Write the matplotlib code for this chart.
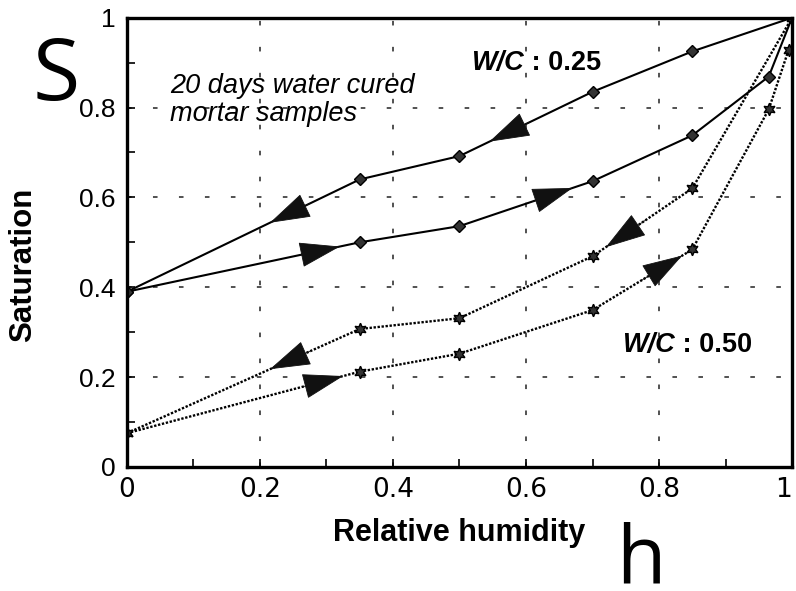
import numpy as np
import matplotlib.pyplot as plt
from matplotlib.patches import ArrowStyle

# relative humidity steps and saturation values
h_wc25 = [0.0, 0.35, 0.5, 0.7, 0.85, 1.0]
s_wc25_des = [0.39, 0.64, 0.692, 0.835, 0.925, 1.0]
h_wc25_ads = [0.0, 0.35, 0.5, 0.7, 0.85, 0.965, 1.0]
s_wc25_ads = [0.39, 0.50, 0.536, 0.636, 0.738, 0.869, 1.0]

h_wc50_des = [0.0, 0.35, 0.5, 0.7, 0.85, 1.0]
s_wc50_des = [0.075, 0.307, 0.331, 0.469, 0.62, 1.0]
h_wc50_ads = [0.0, 0.35, 0.5, 0.7, 0.85, 0.965, 0.995]
s_wc50_ads = [0.075, 0.212, 0.252, 0.349, 0.484, 0.796, 0.929]

xticklabels = ['0', '0.2', '0.4', '0.6', '0.8', '1']
yticklabels = ['0', '0.2', '0.4', '0.6', '0.8', '1']

fig = plt.figure(figsize=(7.96, 5.91), dpi=100)
ax = fig.add_axes([0.1595, 0.21, 0.8355, 0.76])

solid = dict(color='black', lw=1.5, marker='D', ms=6.5, mfc='#333', mec='black')
dots = dict(color='black', lw=1.7, ls=(0, (1, 0.7)), marker=(6, 1, 0), ms=9,
            mfc='#333', mec='black')
ax.plot(h_wc25, s_wc25_des, **solid)
ax.plot(h_wc25_ads, s_wc25_ads, **solid)
ax.plot(h_wc50_des, s_wc50_des, **dots)
ax.plot(h_wc50_ads, s_wc50_ads, **dots)


def arrow(hs, ss, at, direction):
    # arrowhead sitting on the curve, pointing along the sorption direction
    y0 = np.interp(at, hs, ss)
    back = at - 0.06 * direction
    y1 = np.interp(back, hs, ss)
    ax.annotate('', xy=(at, y0), xytext=(back, y1),
                arrowprops=dict(arrowstyle=ArrowStyle('-|>', head_length=1.35, head_width=0.42),
                                mutation_scale=20, color='#111', lw=0.6, shrinkA=0, shrinkB=0))


arrow(h_wc25, s_wc25_des, 0.215, -1)
arrow(h_wc25, s_wc25_des, 0.545, -1)
arrow(h_wc25_ads, s_wc25_ads, 0.32, 1)
arrow(h_wc25_ads, s_wc25_ads, 0.67, 1)
arrow(h_wc50_des, s_wc50_des, 0.215, -1)
arrow(h_wc50_des, s_wc50_des, 0.72, -1)
arrow(h_wc50_ads, s_wc50_ads, 0.325, 1)
arrow(h_wc50_ads, s_wc50_ads, 0.835, 1)

ax.set_xlim(0, 1)
ax.set_ylim(0, 1)
ax.set_xticks(np.linspace(0, 1, 6))
ax.set_yticks(np.linspace(0, 1, 6))
ax.set_xticks(np.arange(0.1, 1, 0.2), minor=True)
ax.set_yticks(np.arange(0.1, 1, 0.2), minor=True)
ax.set_xticklabels(xticklabels, fontsize=19,
                   family=['Liberation Sans Narrow', 'DejaVu Sans Condensed', 'DejaVu Sans'])
ax.set_yticklabels(yticklabels, fontsize=19, family='Liberation Sans')
ax.get_xticklabels()[-1].set_horizontalalignment('right')
ax.tick_params(which='both', direction='in', length=6, width=1.2, top=False, right=False)
ax.tick_params(axis='y', pad=8)
ax.tick_params(axis='x', pad=7)
for sp in ax.spines.values():
    sp.set_linewidth(2.4)

ax.grid(True, which='major', color='#222', lw=1.1, ls=(0, (3, 14)))

ax.set_xlabel('Relative humidity', fontsize=22, fontweight='bold', family='Liberation Sans', labelpad=11)
ax.set_ylabel('Saturation', fontsize=22.5, fontweight='bold', family='Liberation Sans')
ax.yaxis.set_label_coords(-0.134, 0.45)

ax.text(0.065, 0.878, '20 days water cured\nmortar samples', fontsize=19.5, style='italic',
        family='Liberation Sans', va='top', linespacing=1.12)
t1 = ax.text(0.518, 0.884, 'W/C', fontsize=19.5, fontweight='bold', style='italic',
             family='Liberation Sans')
ax.annotate(' : 0.25', xy=(1, 0), xycoords=t1, va='bottom', fontsize=19.5,
            fontweight='bold', family='Liberation Sans')
t2 = ax.text(0.745, 0.256, 'W/C', fontsize=19.5, fontweight='bold', style='italic',
             family='Liberation Sans')
ax.annotate(' : 0.50', xy=(1, 0), xycoords=t2, va='bottom', fontsize=19.5,
            fontweight='bold', family='Liberation Sans')

fig.text(0.071, 0.869, 'S', fontsize=62, family='Open Sans', ha='center', va='center')
fig.text(0.805, 0.05, 'h', fontsize=58, family='Open Sans', ha='center', va='center')

fig.savefig('out.png', dpi=100)
